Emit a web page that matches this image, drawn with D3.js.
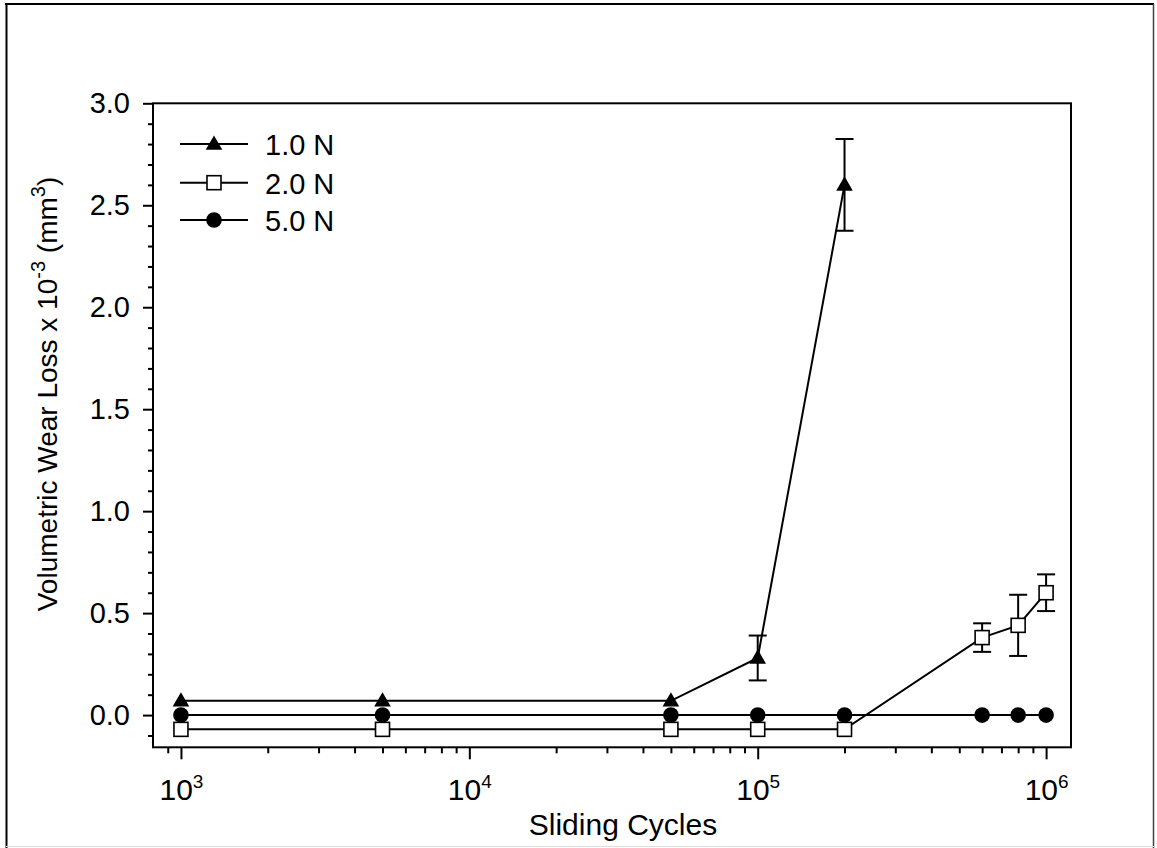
<!DOCTYPE html>
<html>
<head>
<meta charset="utf-8">
<script src="https://cdn.jsdelivr.net/npm/d3@7"></script>
<style>
  html, body { margin: 0; padding: 0; background: #fff; }
  svg { display: block; }
  text { font-family: "Liberation Sans", Arial, sans-serif; fill: #000; }
</style>
</head>
<body>
<svg id="chart" width="1157" height="848"></svg>
<script>
// ---- data ----
const cycles10N = [1e3, 5e3, 5e4, 1e5, 2e5];
const wear10N   = [0.07, 0.07, 0.07, 0.28, 2.60];
const err10N    = [0, 0, 0, 0.11, 0.225];

const cycles20N = [1e3, 5e3, 5e4, 1e5, 2e5, 6e5, 8e5, 1e6];
const wear20N   = [-0.07, -0.07, -0.07, -0.07, -0.07, 0.38, 0.44, 0.60];
const err20N    = [0, 0, 0, 0, 0, 0.07, 0.15, 0.09];

const cycles50N = [1e3, 5e3, 5e4, 1e5, 2e5, 6e5, 8e5, 1e6];
const wear50N   = [0, 0, 0, 0, 0, 0, 0, 0];

const seriesNames = ["1.0 N", "2.0 N", "5.0 N"];
const yMajorTicks = [0.0, 0.5, 1.0, 1.5, 2.0, 2.5, 3.0];
const xMajorTicks = [1e3, 1e4, 1e5, 1e6];
const xTickExponents = ["3", "4", "5", "6"];
const xTitle = "Sliding Cycles";

// ---- layout ----
const svg = d3.select("#chart");
const L = 153, R = 1071, T = 103.3, B = 747.3;
const x = d3.scaleLog().domain([800, 1.22e6]).range([L, R]);
const y = d3.scaleLinear().domain([-0.158, 3.0]).range([B, T]);

// outer frame
svg.append("line").attr("x1", 5).attr("x2", 1154).attr("y1", 4).attr("y2", 4).attr("stroke", "#000").attr("stroke-width", 2);
svg.append("line").attr("x1", 6.5).attr("x2", 6.5).attr("y1", 4).attr("y2", 848).attr("stroke", "#000").attr("stroke-width", 2);
svg.append("line").attr("x1", 1153.5).attr("x2", 1153.5).attr("y1", 4).attr("y2", 848).attr("stroke", "#444").attr("stroke-width", 1.5);
svg.append("line").attr("x1", 6).attr("x2", 1154).attr("y1", 846.5).attr("y2", 846.5).attr("stroke", "#ddd").attr("stroke-width", 1);

// ---- axes ----
// y minor ticks
const yMinor = d3.range(-1, 30).map(d => d / 10).filter(v => Math.abs(v * 2 - Math.round(v * 2)) > 1e-6);
const yMinorAxis = d3.axisLeft(y).tickValues(yMinor).tickSize(5).tickFormat("").tickSizeOuter(0);
const gyMinor = svg.append("g").attr("transform", `translate(${L},0)`).call(yMinorAxis);
gyMinor.select(".domain").remove();
gyMinor.selectAll("line").attr("stroke-width", 2);

const yAxis = d3.axisLeft(y).tickValues(yMajorTicks).tickSize(10).tickPadding(13).tickFormat(d3.format(".1f")).tickSizeOuter(0);
const gy = svg.append("g").attr("transform", `translate(${L},0)`).call(yAxis);
gy.select(".domain").remove();
gy.selectAll("line").attr("stroke-width", 2);
gy.selectAll("text").style("font-size", "29px").attr("font-family", null).attr("dy", "0.33em");

// x minor ticks
const xMinor = [];
[1e2, 1e3, 1e4, 1e5].forEach(dec => { for (let k = 2; k <= 9; k++) { const v = dec * k; if (v >= 900 && v <= 1.2e6) xMinor.push(v); } });
const xMinorAxis = d3.axisBottom(x).tickValues(xMinor).tickSize(6).tickFormat("").tickSizeOuter(0);
const gxMinor = svg.append("g").attr("transform", `translate(0,${B})`).call(xMinorAxis);
gxMinor.select(".domain").remove();
gxMinor.selectAll("line").attr("stroke-width", 2);

const xAxis = d3.axisBottom(x).tickValues(xMajorTicks).tickSize(12).tickFormat("").tickSizeOuter(0);
const gx = svg.append("g").attr("transform", `translate(0,${B})`).call(xAxis);
gx.select(".domain").remove();
gx.selectAll("line").attr("stroke-width", 2);
gx.selectAll(".tick").each(function(d, i) {
  const t = d3.select(this).append("text")
    .attr("y", 53).attr("text-anchor", "middle").style("font-size", "30px").attr("fill", "#000");
  t.append("tspan").text("10");
  t.append("tspan").attr("dy", -12).style("font-size", "19px").text(xTickExponents[i]);
});

// plot frame
svg.append("rect").attr("x", L).attr("y", T).attr("width", R - L).attr("height", B - T)
  .attr("fill", "none").attr("stroke", "#000").attr("stroke-width", 2);

// ---- titles ----
svg.append("text").attr("x", 623).attr("y", 835).attr("text-anchor", "middle")
  .style("font-size", "30px").text(xTitle);

const yt = svg.append("text").attr("transform", "translate(57,394) rotate(-90)")
  .attr("text-anchor", "middle").style("font-size", "28px");
yt.append("tspan").text("Volumetric Wear Loss x 10");
yt.append("tspan").attr("dy", -12).style("font-size", "20px").text("-3");
yt.append("tspan").attr("dy", 12).text(" (mm");
yt.append("tspan").attr("dy", -12).style("font-size", "20px").text("3");
yt.append("tspan").attr("dy", 12).text(")");

// ---- series ----
const line = d3.line().x(d => x(d[0])).y(d => y(d[1]));
const s1 = cycles10N.map((c, i) => [c, wear10N[i], err10N[i]]);
const s2 = cycles20N.map((c, i) => [c, wear20N[i], err20N[i]]);
const s5 = cycles50N.map((c, i) => [c, wear50N[i], 0]);

[s1, s5, s2].forEach(s => {
  svg.append("path").datum(s).attr("d", line).attr("fill", "none").attr("stroke", "#000").attr("stroke-width", 2);
});

// error bars
const capW = 9;
[s1, s2].forEach(s => {
  s.filter(d => d[2] > 0).forEach(d => {
    const g = svg.append("g").attr("stroke", "#000").attr("stroke-width", 2);
    const cx = x(d[0]);
    g.append("line").attr("x1", cx).attr("x2", cx).attr("y1", y(d[1] + d[2])).attr("y2", y(d[1] - d[2]));
    g.append("line").attr("x1", cx - capW).attr("x2", cx + capW).attr("y1", y(d[1] + d[2])).attr("y2", y(d[1] + d[2]));
    g.append("line").attr("x1", cx - capW).attr("x2", cx + capW).attr("y1", y(d[1] - d[2])).attr("y2", y(d[1] - d[2]));
  });
});

const triSym = d3.symbol().type(d3.symbolTriangle).size(120);
function drawTri(g, cx, cy) {
  g.append("path").attr("d", triSym()).attr("transform", `translate(${cx},${cy + 1})`).attr("fill", "#000");
}
function drawSq(g, cx, cy) {
  g.append("rect").attr("x", cx - 7).attr("y", cy - 7).attr("width", 14).attr("height", 14)
    .attr("fill", "#fff").attr("stroke", "#000").attr("stroke-width", 1.6);
}
function drawCirc(g, cx, cy) {
  g.append("circle").attr("cx", cx).attr("cy", cy).attr("r", 7.8).attr("fill", "#000");
}
const mg = svg.append("g");
s1.forEach(d => drawTri(mg, x(d[0]), y(d[1])));
s5.forEach(d => drawCirc(mg, x(d[0]), y(d[1])));
s2.forEach(d => drawSq(mg, x(d[0]), y(d[1])));

// ---- legend ----
const legRows = [144, 182.7, 220];
const drawers = [drawTri, drawSq, drawCirc];
const lg = svg.append("g");
seriesNames.forEach((name, i) => {
  const ly = legRows[i];
  lg.append("line").attr("x1", 180).attr("x2", 248).attr("y1", ly).attr("y2", ly).attr("stroke", "#000").attr("stroke-width", 2);
  drawers[i](lg, 214, ly);
  lg.append("text").attr("x", 265).attr("y", ly + 11).style("font-size", "29px").text(name);
});
</script>
</body>
</html>
